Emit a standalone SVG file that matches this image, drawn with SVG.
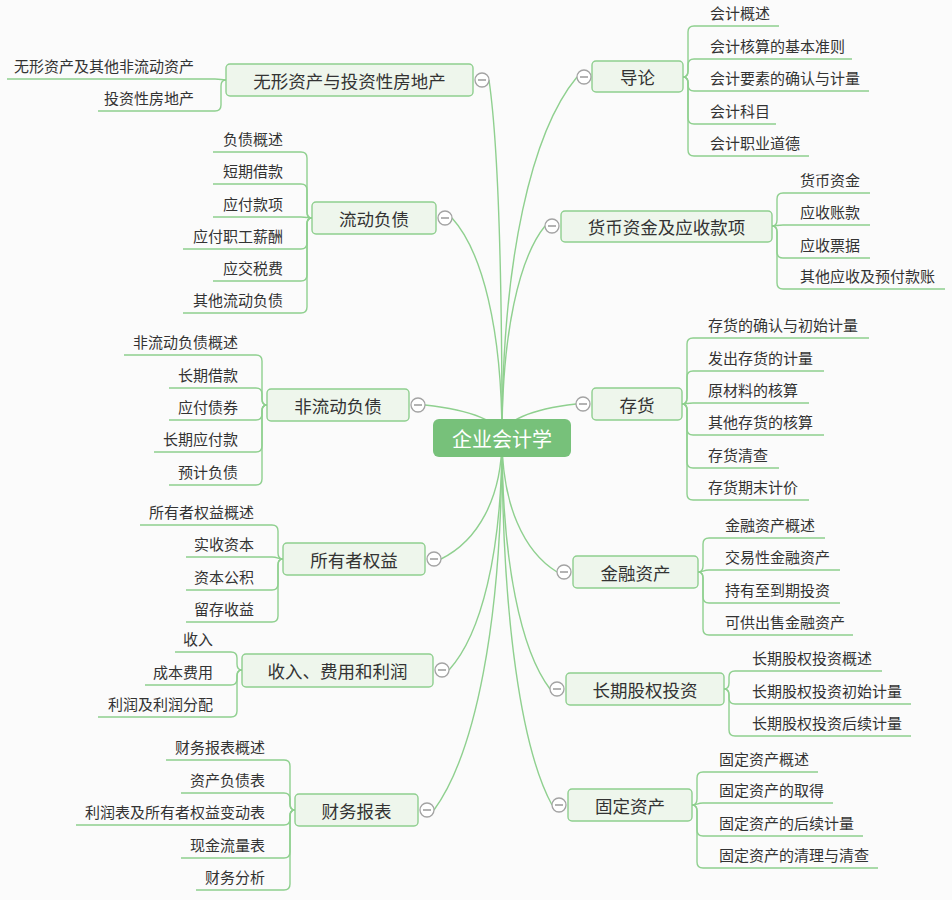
<svg xmlns="http://www.w3.org/2000/svg" width="952" height="900" viewBox="0 0 952 900">
<style>
.bg{fill:#fbfbfb}
.ln{fill:none;stroke:#8fd08f;stroke-width:1.4}
.bx{fill:#eef6ec;stroke:#8fcf8f;stroke-width:1.4}
.pt{font-family:"Noto Sans CJK SC","Noto Sans",sans-serif;font-size:17.5px;fill:#333;text-anchor:middle;dominant-baseline:central}
.ct{font-family:"Noto Sans CJK SC","Noto Sans",sans-serif;font-size:15px;fill:#333;dominant-baseline:central}
.l{text-anchor:end}
.tg circle{fill:#fff;stroke:#a3a3a3;stroke-width:1.3}
.tg line{stroke:#8a8a8a;stroke-width:1.3}
.root rect{fill:#77c17a}
.root text{font-family:"Noto Sans CJK SC","Noto Sans",sans-serif;font-size:20px;fill:#fff;text-anchor:middle;dominant-baseline:central}
</style>
<rect class="bg" x="0" y="0" width="952" height="900"/>
<g id="connectors">
<path class="ln" d="M502,438 C502,257.5 532,131 577,77"/>
<path class="ln" d="M502,438 C502,332 519.2,257.8 545,226"/>
<path class="ln" d="M502,438 C502,421 531.6,409 576,404"/>
<path class="ln" d="M502,438 C502,505 524,551.9 557,572"/>
<path class="ln" d="M502,438 C502,563.5 521.2,651.4 550,689"/>
<path class="ln" d="M502,438 C502,621.5 522,750 552,805"/>
<path class="ln" d="M502,438 C502,259 496.8,134 489,80"/>
<path class="ln" d="M502,438 C502,328 482,251 452,218"/>
<path class="ln" d="M502,438 C502,422 471.2,410 425,405"/>
<path class="ln" d="M502,438 C502,498.5 477.6,540.9 441,559"/>
<path class="ln" d="M502,438 C502,554 480.8,635.2 449,670"/>
<path class="ln" d="M502,438 C502,624.5 474.8,754 434,810"/>
<!-- 导论 -->
<path class="ln" d="M683,77 Q688,77 688,71 L688,32 Q688,26 694,26 L779,26"/>
<path class="ln" d="M683,77 Q688,77 688,71 L688,65 Q688,59 694,59 L852,59"/>
<path class="ln" d="M683,77 Q688,77 688,83 L688,85 Q688,91 694,91 L869,91"/>
<path class="ln" d="M683,77 Q688,77 688,83 L688,118 Q688,124 694,124 L776,124"/>
<path class="ln" d="M683,77 Q688,77 688,83 L688,150 Q688,156 694,156 L809,156"/>
<!-- 货币 -->
<path class="ln" d="M772,226 Q777,226 777,220 L777,199 Q777,193 783,193 L870,193"/>
<path class="ln" d="M772,226 C777,226 777,225 783,225 L870,225"/>
<path class="ln" d="M772,226 Q777,226 777,232 L777,252 Q777,258 783,258 L870,258"/>
<path class="ln" d="M772,226 Q777,226 777,232 L777,283 Q777,289 783,289 L945,289"/>
<!-- 存货 -->
<path class="ln" d="M682,404 Q687,404 687,398 L687,344 Q687,338 693,338 L869,338"/>
<path class="ln" d="M682,404 Q687,404 687,398 L687,377 Q687,371 693,371 L824,371"/>
<path class="ln" d="M682,404 C687,404 687,403 693,403 L809,403"/>
<path class="ln" d="M682,404 Q687,404 687,410 L687,429 Q687,435 693,435 L824,435"/>
<path class="ln" d="M682,404 Q687,404 687,410 L687,462 Q687,468 693,468 L779,468"/>
<path class="ln" d="M682,404 Q687,404 687,410 L687,494 Q687,500 693,500 L809,500"/>
<!-- 金融 -->
<path class="ln" d="M698,572 Q703,572 703,566 L703,544 Q703,538 709,538 L825,538"/>
<path class="ln" d="M698,572 C703,572 703,570 709,570 L840,570"/>
<path class="ln" d="M698,572 Q703,572 703,578 L703,597 Q703,603 709,603 L840,603"/>
<path class="ln" d="M698,572 Q703,572 703,578 L703,629 Q703,635 709,635 L853,635"/>
<!-- 长期 -->
<path class="ln" d="M724,689 Q729,689 729,683 L729,677 Q729,671 735,671 L882,671"/>
<path class="ln" d="M724,689 Q729,689 729,695 L729,698 Q729,704 735,704 L911,704"/>
<path class="ln" d="M724,689 Q729,689 729,695 L729,730 Q729,736 735,736 L911,736"/>
<!-- 固定 -->
<path class="ln" d="M692,805 Q697,805 697,799 L697,778 Q697,772 703,772 L818,772"/>
<path class="ln" d="M692,805 C697,805 697,803 703,803 L833,803"/>
<path class="ln" d="M692,805 Q697,805 697,811 L697,830 Q697,836 703,836 L863,836"/>
<path class="ln" d="M692,805 Q697,805 697,811 L697,862 Q697,868 703,868 L878,868"/>
<!-- 无形 -->
<path class="ln" d="M226,80 C221,80 221,79 215,79 L7,79"/>
<path class="ln" d="M226,80 Q221,80 221,86 L221,105 Q221,111 215,111 L98,111"/>
<!-- 流动 -->
<path class="ln" d="M312,218 Q307,218 307,212 L307,158 Q307,152 301,152 L213,152"/>
<path class="ln" d="M312,218 Q307,218 307,212 L307,190 Q307,184 301,184 L213,184"/>
<path class="ln" d="M312,218 C307,218 307,217 301,217 L213,217"/>
<path class="ln" d="M312,218 Q307,218 307,224 L307,243 Q307,249 301,249 L183,249"/>
<path class="ln" d="M312,218 Q307,218 307,224 L307,275 Q307,281 301,281 L213,281"/>
<path class="ln" d="M312,218 Q307,218 307,224 L307,307 Q307,313 301,313 L183,313"/>
<!-- 非流动 -->
<path class="ln" d="M267,405 Q262,405 262,399 L262,361 Q262,355 256,355 L124,355"/>
<path class="ln" d="M267,405 Q262,405 262,399 L262,394 Q262,388 256,388 L169,388"/>
<path class="ln" d="M267,405 Q262,405 262,411 L262,414 Q262,420 256,420 L169,420"/>
<path class="ln" d="M267,405 Q262,405 262,411 L262,446 Q262,452 256,452 L154,452"/>
<path class="ln" d="M267,405 Q262,405 262,411 L262,479 Q262,485 256,485 L169,485"/>
<!-- 所有者 -->
<path class="ln" d="M283,559 Q278,559 278,553 L278,531 Q278,525 272,525 L140,525"/>
<path class="ln" d="M283,559 C278,559 278,557 272,557 L186,557"/>
<path class="ln" d="M283,559 Q278,559 278,565 L278,584 Q278,590 272,590 L186,590"/>
<path class="ln" d="M283,559 Q278,559 278,565 L278,616 Q278,622 272,622 L186,622"/>
<!-- 收入 -->
<path class="ln" d="M242,670 Q237,670 237,664 L237,658 Q237,652 231,652 L175,652"/>
<path class="ln" d="M242,670 Q237,670 237,676 L237,679 Q237,685 231,685 L145,685"/>
<path class="ln" d="M242,670 Q237,670 237,676 L237,711 Q237,717 231,717 L98,717"/>
<!-- 财务 -->
<path class="ln" d="M295,810 Q290,810 290,804 L290,766 Q290,760 284,760 L166,760"/>
<path class="ln" d="M295,810 Q290,810 290,804 L290,799 Q290,793 284,793 L181,793"/>
<path class="ln" d="M295,810 Q290,810 290,816 L290,819 Q290,825 284,825 L76,825"/>
<path class="ln" d="M295,810 Q290,810 290,816 L290,852 Q290,858 284,858 L181,858"/>
<path class="ln" d="M295,810 Q290,810 290,816 L290,884 Q290,890 284,890 L196,890"/>
</g>
<g id="root" class="root">
<rect x="433" y="419" width="138" height="38" rx="6"/>
<text x="502" y="438">企业会计学</text>
</g>
<g id="n-daolun">
<rect class="bx" x="592" y="61" width="91" height="31" rx="4"/>
<text class="pt" x="637.5" y="76.5">导论</text>
<g class="tg"><circle cx="584" cy="77" r="7"/><line x1="580" y1="77" x2="588" y2="77"/></g>
<text class="ct" x="710" y="12">会计概述</text>
<text class="ct" x="710" y="45">会计核算的基本准则</text>
<text class="ct" x="710" y="77">会计要素的确认与计量</text>
<text class="ct" x="710" y="110">会计科目</text>
<text class="ct" x="710" y="142">会计职业道德</text>
</g>
<g id="n-huobi">
<rect class="bx" x="561" y="211" width="211" height="31" rx="4"/>
<text class="pt" x="666.5" y="226.5">货币资金及应收款项</text>
<g class="tg"><circle cx="552" cy="226" r="7"/><line x1="548" y1="226" x2="556" y2="226"/></g>
<text class="ct" x="800" y="179">货币资金</text>
<text class="ct" x="800" y="211">应收账款</text>
<text class="ct" x="800" y="244">应收票据</text>
<text class="ct" x="800" y="275">其他应收及预付款账</text>
</g>
<g id="n-cunhuo">
<rect class="bx" x="592" y="388" width="90" height="32" rx="4"/>
<text class="pt" x="637" y="404">存货</text>
<g class="tg"><circle cx="583" cy="404" r="7"/><line x1="579" y1="404" x2="587" y2="404"/></g>
<text class="ct" x="708" y="324">存货的确认与初始计量</text>
<text class="ct" x="708" y="357">发出存货的计量</text>
<text class="ct" x="708" y="389">原材料的核算</text>
<text class="ct" x="708" y="421">其他存货的核算</text>
<text class="ct" x="708" y="454">存货清查</text>
<text class="ct" x="708" y="486">存货期末计价</text>
</g>
<g id="n-jinrong">
<rect class="bx" x="573" y="556" width="125" height="32" rx="4"/>
<text class="pt" x="635.5" y="572">金融资产</text>
<g class="tg"><circle cx="564" cy="572" r="7"/><line x1="560" y1="572" x2="568" y2="572"/></g>
<text class="ct" x="725" y="524">金融资产概述</text>
<text class="ct" x="725" y="556">交易性金融资产</text>
<text class="ct" x="725" y="589">持有至到期投资</text>
<text class="ct" x="725" y="621">可供出售金融资产</text>
</g>
<g id="n-changqi">
<rect class="bx" x="566" y="673" width="158" height="32" rx="4"/>
<text class="pt" x="645" y="689">长期股权投资</text>
<g class="tg"><circle cx="557" cy="689" r="7"/><line x1="553" y1="689" x2="561" y2="689"/></g>
<text class="ct" x="752" y="657">长期股权投资概述</text>
<text class="ct" x="752" y="690">长期股权投资初始计量</text>
<text class="ct" x="752" y="722">长期股权投资后续计量</text>
</g>
<g id="n-guding">
<rect class="bx" x="568" y="789" width="124" height="32" rx="4"/>
<text class="pt" x="630" y="805">固定资产</text>
<g class="tg"><circle cx="559" cy="805" r="7"/><line x1="555" y1="805" x2="563" y2="805"/></g>
<text class="ct" x="719" y="758">固定资产概述</text>
<text class="ct" x="719" y="789">固定资产的取得</text>
<text class="ct" x="719" y="822">固定资产的后续计量</text>
<text class="ct" x="719" y="854">固定资产的清理与清查</text>
</g>
<g id="n-wuxing">
<rect class="bx" x="226" y="64" width="247" height="32" rx="4"/>
<text class="pt" x="349.5" y="80">无形资产与投资性房地产</text>
<g class="tg"><circle cx="482" cy="80" r="7"/><line x1="478" y1="80" x2="486" y2="80"/></g>
<text class="ct l" x="194" y="65">无形资产及其他非流动资产</text>
<text class="ct l" x="194" y="97">投资性房地产</text>
</g>
<g id="n-liudong">
<rect class="bx" x="312" y="202" width="124" height="32" rx="4"/>
<text class="pt" x="374" y="218">流动负债</text>
<g class="tg"><circle cx="445" cy="218" r="7"/><line x1="441" y1="218" x2="449" y2="218"/></g>
<text class="ct l" x="283" y="138">负债概述</text>
<text class="ct l" x="283" y="170">短期借款</text>
<text class="ct l" x="283" y="203">应付款项</text>
<text class="ct l" x="283" y="235">应付职工薪酬</text>
<text class="ct l" x="283" y="267">应交税费</text>
<text class="ct l" x="283" y="299">其他流动负债</text>
</g>
<g id="n-feiliudong">
<rect class="bx" x="267" y="389" width="142" height="32" rx="4"/>
<text class="pt" x="338" y="405">非流动负债</text>
<g class="tg"><circle cx="418" cy="405" r="7"/><line x1="414" y1="405" x2="422" y2="405"/></g>
<text class="ct l" x="238" y="341">非流动负债概述</text>
<text class="ct l" x="238" y="374">长期借款</text>
<text class="ct l" x="238" y="406">应付债券</text>
<text class="ct l" x="238" y="438">长期应付款</text>
<text class="ct l" x="238" y="471">预计负债</text>
</g>
<g id="n-suoyouzhe">
<rect class="bx" x="283" y="543" width="142" height="32" rx="4"/>
<text class="pt" x="354" y="559">所有者权益</text>
<g class="tg"><circle cx="434" cy="559" r="7"/><line x1="430" y1="559" x2="438" y2="559"/></g>
<text class="ct l" x="254" y="511">所有者权益概述</text>
<text class="ct l" x="254" y="543">实收资本</text>
<text class="ct l" x="254" y="576">资本公积</text>
<text class="ct l" x="254" y="608">留存收益</text>
</g>
<g id="n-shouru">
<rect class="bx" x="242" y="654" width="191" height="33" rx="4"/>
<text class="pt" x="337.5" y="670.5">收入、费用和利润</text>
<g class="tg"><circle cx="442" cy="670" r="7"/><line x1="438" y1="670" x2="446" y2="670"/></g>
<text class="ct l" x="213" y="638">收入</text>
<text class="ct l" x="213" y="671">成本费用</text>
<text class="ct l" x="213" y="703">利润及利润分配</text>
</g>
<g id="n-caiwu">
<rect class="bx" x="295" y="794" width="123" height="32" rx="4"/>
<text class="pt" x="356.5" y="810">财务报表</text>
<g class="tg"><circle cx="427" cy="810" r="7"/><line x1="423" y1="810" x2="431" y2="810"/></g>
<text class="ct l" x="265" y="746">财务报表概述</text>
<text class="ct l" x="265" y="779">资产负债表</text>
<text class="ct l" x="265" y="811">利润表及所有者权益变动表</text>
<text class="ct l" x="265" y="844">现金流量表</text>
<text class="ct l" x="265" y="876">财务分析</text>
</g>
</svg>
